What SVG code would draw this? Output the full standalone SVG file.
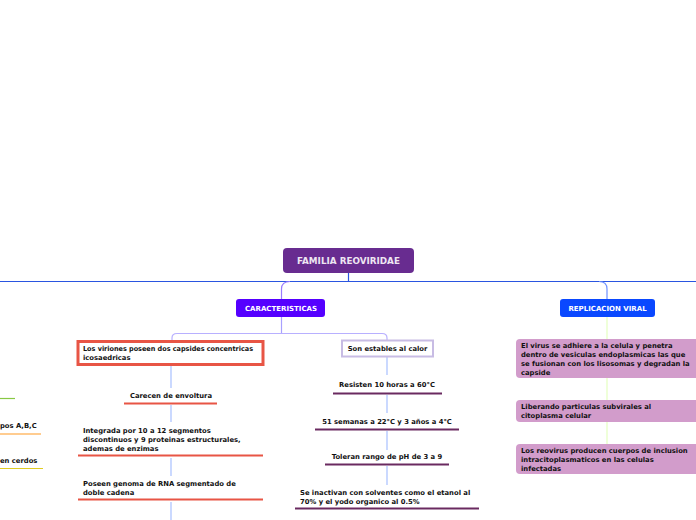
<svg xmlns="http://www.w3.org/2000/svg" width="696" height="520" viewBox="0 0 696 520">
<style>
text{font-family:"DejaVu Sans",Verdana,sans-serif;font-weight:bold;font-size:6.8px;fill:#111}
.c{text-anchor:middle}
.w{fill:#fff}
.conn path{fill:none;stroke-width:1.2}
.red{stroke:#e85545;stroke-width:2}
.pur{stroke:#6a2a60;stroke-width:2}
.pink{fill:#d29ccb}
</style>
<rect width="696" height="520" fill="#fff"/>
<g id="connectors" class="conn">
<path d="M0 281.5H696" stroke="#2a55e0"/>
<path d="M348.5 273V281.5" stroke="#2a55e0"/>
<path d="M290 281.5Q281.5 281.5 281.5 289V299" stroke="#9a7cff"/>
<path d="M599 281.5Q607 281.5 607 289V299" stroke="#6e90ff"/>
<path d="M281.5 317V333.5" stroke="#a8a0ff"/>
<path d="M172 340V338Q172 333.5 177 333.5H382Q387 333.5 387 338V340" stroke="#b8b0ff"/>
<path d="M171 365V388M171 405V422M171 458V476M171 502V520" stroke="#a8c0ff"/>
<path d="M387 357V375M387 395V413M387 431V450M387 466V485" stroke="#a8c0ff"/>
<path d="M607 317V339M607 378V400M607 422V444" stroke="#e4ffc0" stroke-width="2"/>
<path d="M0 398.5H15" stroke="#88c844" stroke-width="2"/>
<path d="M0 434H41" stroke="#ff9922" stroke-width="2"/>
<path d="M0 468.5H43" stroke="#e0cc22" stroke-width="2"/>
</g>
<g id="root">
<rect x="283" y="248" width="131" height="25" rx="4" fill="#682c90"/>
<text x="348.5" y="264" class="c" style="font-size:8.8px;fill:#eee6f2">FAMILIA REOVIRIDAE</text>
</g>
<g id="caracteristicas">
<rect x="236" y="299" width="89" height="18" rx="3" fill="#5500ff"/>
<text x="281" y="311" class="c w" style="font-size:7px">CARACTERISTICAS</text>
</g>
<g id="replicacion">
<rect x="560" y="299" width="95" height="18" rx="3" fill="#0a48ff"/>
<text x="607.5" y="311" class="c w" style="font-size:7px">REPLICACION VIRAL</text>
</g>
<g id="viriones">
<rect x="78" y="341.5" width="185" height="23" fill="#fff" stroke="#e85545" stroke-width="3"/>
<text x="83" y="351" textLength="170" lengthAdjust="spacingAndGlyphs">Los viriones poseen dos capsides concentricas</text>
<text x="83" y="359.5">icosaedricas</text>
</g>
<g id="envoltura">
<text x="171" y="398" class="c">Carecen de envoltura</text>
<path d="M124 403.5H217" class="red"/>
</g>
<g id="integrada">
<text x="83" y="433">Integrada por 10 a 12 segmentos</text>
<text x="83" y="442">discontinuos y 9 proteinas estructurales,</text>
<text x="83" y="451">ademas de enzimas</text>
<path d="M78 455.5H263" class="red"/>
</g>
<g id="genoma">
<text x="83" y="486">Poseen genoma de RNA segmentado de</text>
<text x="83" y="495">doble cadena</text>
<path d="M78 499.5H263" class="red"/>
</g>
<g id="estables">
<rect x="342" y="340.5" width="91" height="16" fill="#fff" stroke="#c8bce4" stroke-width="2"/>
<text x="387.5" y="351" class="c">Son estables al calor</text>
</g>
<g id="resisten">
<text x="387" y="387" class="c">Resisten 10 horas a 60°C</text>
<path d="M333 393.5H442" class="pur"/>
</g>
<g id="semanas">
<text x="387" y="424" class="c">51 semanas a 22°C y 3 años a 4°C</text>
<path d="M315 429.5H459" class="pur"/>
</g>
<g id="toleran">
<text x="387" y="459" class="c">Toleran rango de pH de 3 a 9</text>
<path d="M325 464.5H449" class="pur"/>
</g>
<g id="inactivan">
<text x="300" y="495">Se inactivan con solventes como el etanol al</text>
<text x="300" y="504">70% y el yodo organico al 0.5%</text>
<path d="M295 508.5H479" class="pur"/>
</g>
<g id="adhiere">
<rect x="516" y="339" width="190" height="39" rx="4" class="pink"/>
<text x="521" y="348">El virus se adhiere a la celula y penetra</text>
<text x="521" y="357">dentro de vesiculas endoplasmicas las que</text>
<text x="521" y="366">se fusionan con los lisosomas y degradan la</text>
<text x="521" y="374.5">capside</text>
</g>
<g id="liberando">
<rect x="516" y="400" width="190" height="22" rx="4" class="pink"/>
<text x="521" y="409">Liberando particulas subvirales al</text>
<text x="521" y="417.5">citoplasma celular</text>
</g>
<g id="inclusion">
<rect x="516" y="444" width="190" height="30" rx="4" class="pink"/>
<text x="521" y="453">Los reovirus producen cuerpos de inclusion</text>
<text x="521" y="462">intracitoplasmaticos en las celulas</text>
<text x="521" y="470.5">infectadas</text>
</g>
<g id="left-tipos">
<text x="0" y="428">pos A,B,C</text>
</g>
<g id="left-cerdos">
<text x="0" y="463">en cerdos</text>
</g>
</svg>
